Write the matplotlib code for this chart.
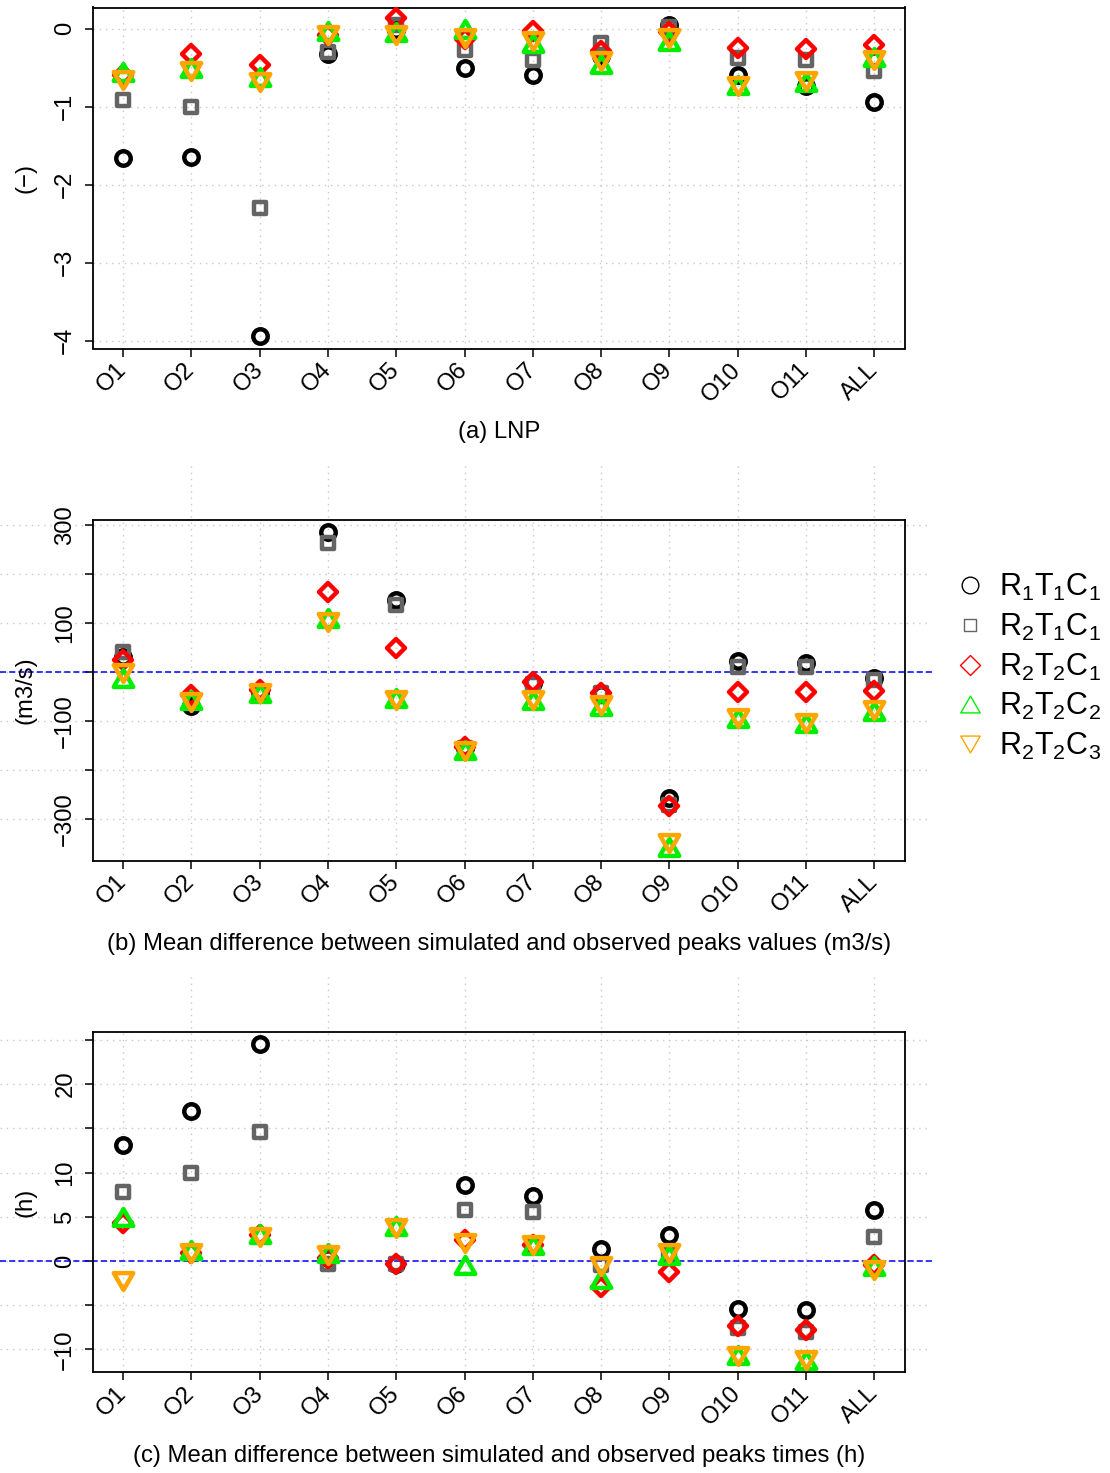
import matplotlib
matplotlib.use('Agg')
import matplotlib.pyplot as plt
from matplotlib.markers import MarkerStyle
from matplotlib.lines import Line2D
from matplotlib.path import Path
import numpy as np

plt.rcParams['font.family'] = ['Liberation Sans', 'DejaVu Sans']
plt.rcParams['mathtext.fontset'] = 'custom'
plt.rcParams['mathtext.rm'] = 'Liberation Sans'
plt.rcParams['mathtext.it'] = 'Liberation Sans:italic'
plt.rcParams['font.size'] = 17.2

# ---------------- data ----------------
stations = ['O1', 'O2', 'O3', 'O4', 'O5', 'O6', 'O7', 'O8', 'O9', 'O10', 'O11', 'ALL']
series = [r'$\mathrm{R_1T_1C_1}$', r'$\mathrm{R_2T_1C_1}$', r'$\mathrm{R_2T_2C_1}$',
          r'$\mathrm{R_2T_2C_2}$', r'$\mathrm{R_2T_2C_3}$']

# (a) LNP
lnp_r1t1c1 = [-1.66, -1.65, -3.94, -0.33, -0.02, -0.50, -0.60, -0.35, 0.05, -0.59, -0.74, -0.94]
lnp_r2t1c1 = [-0.91, -1.01, -2.30, -0.30, 0.05, -0.27, -0.40, -0.19, 0.02, -0.38, -0.40, -0.55]
lnp_r2t2c1 = [-0.60, -0.33, -0.47, -0.08, 0.14, -0.14, -0.03, -0.29, -0.05, -0.25, -0.26, -0.21]
lnp_r2t2c2 = [-0.56, -0.50, -0.62, -0.03, -0.05, 0.00, -0.18, -0.45, -0.16, -0.72, -0.68, -0.36]
lnp_r2t2c3 = [-0.66, -0.55, -0.68, -0.08, -0.08, -0.12, -0.16, -0.42, -0.12, -0.74, -0.67, -0.40]

# (b) mean peak value difference (m3/s)
peak_r1t1c1 = [32, -70, -40, 287, 148, -155, -22, -45, -257, 22, 18, -12]
peak_r2t1c1 = [42, -55, -40, 263, 137, -155, -25, -43, -271, 11, 11, -16]
peak_r2t2c1 = [25, -46, -37, 164, 49, -152, -20, -42, -273, -40, -40, -38]
peak_r2t2c2 = [-12, -57, -42, 110, -53, -158, -57, -70, -356, -94, -104, -80]
peak_r2t2c3 = [-2, -60, -42, 103, -57, -160, -57, -67, -349, -94, -104, -77]

# (c) mean peak time difference (h)
time_r1t1c1 = [13.1, 17.0, 24.5, 0.3, -0.3, 8.6, 7.3, 1.4, 2.9, -5.4, -5.5, 5.8]
time_r2t1c1 = [7.8, 10.0, 14.6, -0.3, -0.3, 5.8, 5.5, -0.45, 0.8, -7.6, -8.0, 2.7]
time_r2t2c1 = [4.3, 0.9, 2.9, 0.3, -0.3, 2.4, 1.8, -2.9, -1.2, -7.4, -7.8, -0.45]
time_r2t2c2 = [5.0, 1.2, 3.1, 0.9, 3.9, -0.5, 1.8, -2.0, 0.7, -10.6, -11.2, -0.6]
time_r2t2c3 = [-2.3, 0.9, 2.7, 0.7, 3.7, 2.0, 1.8, -0.6, 0.9, -10.8, -11.2, -1.0]

# ---------------- styles ----------------
tri_up = Path([(-1, -0.866), (1, -0.866), (0, 0.866), (-1, -0.866)], closed=True)
tri_dn = Path([(-1, 0.866), (1, 0.866), (0, -0.866), (-1, 0.866)], closed=True)
markers = ['o', 's', 'D', tri_up, tri_dn]
colors = ['#000000', '#646464', '#ff0000', '#00ee00', '#ffa500']
msizes = [10.4, 9.0, 9.2, 14.0, 14.0]
leg_sizes = [12.0, 9.0, 10.0, 14.0, 14.0]

W, H = 1110, 1473
fig = plt.figure(figsize=(W / 100, H / 100), dpi=100)

panels = [
    dict(top=7.5, bottom=348.5, data=[lnp_r1t1c1, lnp_r2t1c1, lnp_r2t2c1, lnp_r2t2c2, lnp_r2t2c3],
         ylim=(-4.10, 0.27), yticks=[0, -1, -2, -3, -4], ylabels=['0', '−1', '−2', '−3', '−4'],
         ylabel='(−)', caption='(a) LNP', cap_y=432, zero=False, ext=False),
    dict(top=520, bottom=860.5, data=[peak_r1t1c1, peak_r2t1c1, peak_r2t2c1, peak_r2t2c2, peak_r2t2c3],
         ylim=(-384.5, 310.8), yticks=[300, 200, 100, 0, -100, -200, -300],
         ylabels=['300', '', '100', '', '−100', '', '−300'],
         ylabel='(m3/s)', caption='(b) Mean difference between simulated and observed peaks values (m3/s)',
         cap_y=944, zero=True, ext=True),
    dict(top=1032, bottom=1372, data=[time_r1t1c1, time_r2t1c1, time_r2t2c1, time_r2t2c2, time_r2t2c3],
         ylim=(-12.56, 25.9), yticks=[25, 20, 15, 10, 5, 0, -5, -10],
         ylabels=['', '20', '', '10', '5', '0', '', '−10'],
         ylabel='(h)', caption='(c) Mean difference between simulated and observed peaks times (h)',
         cap_y=1456, zero=True, ext=True),
]

left, right = 93, 905
x = np.arange(1, len(stations) + 1)
grid_kw = dict(color='#c8c8c8', lw=1.0, linestyle=(0, (1, 3.5)), zorder=1)

for p in panels:
    ax = fig.add_axes([left / W, 1 - p['bottom'] / H, (right - left) / W, (p['bottom'] - p['top']) / H])
    ax.set_xlim(0.56, 12.45)
    ax.set_ylim(*p['ylim'])
    axw = right - left
    axh = p['bottom'] - p['top']

    # dotted grid (extends past the box in b and c)
    for xv in x:
        ymax = 1 + 55 / axh if (p['ext'] and xv % 2 == 0) else 1
        ax.axvline(xv, ymin=0, ymax=ymax, clip_on=False, **grid_kw)
    for yv in p['yticks']:
        if p['ext']:
            ax.axhline(yv, xmin=-left / axw, xmax=(928 - left) / axw, clip_on=False, **grid_kw)
        else:
            ax.axhline(yv, **grid_kw)
    if p['zero']:
        ax.axhline(0, xmin=-left / axw, xmax=(935 - left) / axw, clip_on=False,
                   color='#0000ff', lw=1.1, linestyle=(0, (4, 2)), zorder=2)

    for vals, m, c, s in zip(p['data'], markers, colors, msizes):
        ax.plot(x, vals, linestyle='none', marker=MarkerStyle(m, joinstyle='round'),
                ms=s, mew=3.2, mec=c, mfc='none', clip_on=False, zorder=3)

    ax.set_xticks(x)
    ax.set_xticklabels(stations)
    for t in ax.get_xticklabels():
        t.set_rotation(45)
        t.set_ha('right')
        t.set_va('center')
        t.set_rotation_mode('anchor')
    ax.set_yticks(p['yticks'])
    ax.set_yticklabels(p['ylabels'])
    for t in ax.get_yticklabels():
        t.set_rotation(90)
        t.set_va('center')
    ax.tick_params(axis='both', direction='out', length=6, width=1.1)
    ax.tick_params(axis='x', pad=7)
    ax.tick_params(axis='y', pad=6)
    for sp in ax.spines.values():
        sp.set_linewidth(1.3)
    ax.text(-(left - 25) / axw, 0.5, p['ylabel'], rotation=90, ha='center', va='center',
            transform=ax.transAxes)
    fig.text((left + right) / 2 / W, 1 - p['cap_y'] / H, p['caption'], ha='center', va='center')

handles = [Line2D([], [], linestyle='none', marker=MarkerStyle(m, joinstyle='round'), ms=s,
                  mew=1.0, mec=c, mfc='none') for m, c, s in zip(markers, colors, leg_sizes)]
fig.legend(handles, series, loc='center left', bbox_to_anchor=(955 / W, 1 - 667 / H),
           frameon=False, handlelength=1.0, handletextpad=0.45, labelspacing=0.28,
           fontsize=22, borderpad=0, borderaxespad=0)

plt.savefig('out.png', dpi=100)
